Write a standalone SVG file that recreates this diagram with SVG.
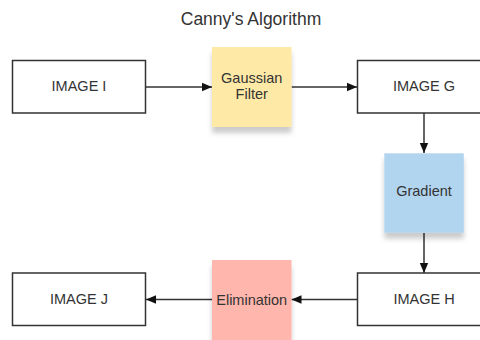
<svg xmlns="http://www.w3.org/2000/svg" width="480" height="340" viewBox="0 0 480 340">
  <style>
    text { font-family: "Liberation Sans", Arial, sans-serif; fill: #333333; text-anchor: middle; }
    .lbl { font-size: 14.5px; }
    .title { font-size: 17.5px; }
    .box { fill: #ffffff; stroke: #333333; stroke-width: 1.5; }
    .conn { fill: none; stroke: #333333; stroke-width: 1.5; }
  </style>
  <defs>
    <marker id="arrow" markerUnits="userSpaceOnUse" markerWidth="12" markerHeight="10" refX="10" refY="5" orient="auto">
      <path d="M0,0.8 L10,5 L0,9.2 Z" fill="#111111"/>
    </marker>
    <filter id="shadow" x="-20%" y="-20%" width="140%" height="150%">
      <feDropShadow dx="0" dy="6" stdDeviation="2.5" flood-color="#000000" flood-opacity="0.2"/>
    </filter>
  </defs>
  <rect width="480" height="340" fill="#ffffff"/>
  <text class="title" x="251" y="24.5">Canny's Algorithm</text>

  <g id="connectors">
    <line class="conn" x1="145.5" y1="87" x2="212" y2="87" marker-end="url(#arrow)"/>
    <line class="conn" x1="291.5" y1="87" x2="357" y2="87" marker-end="url(#arrow)"/>
    <line class="conn" x1="424" y1="113" x2="424" y2="153" marker-end="url(#arrow)"/>
    <line class="conn" x1="424" y1="233" x2="424" y2="273" marker-end="url(#arrow)"/>
    <line class="conn" x1="357" y1="299.5" x2="291.5" y2="299.5" marker-end="url(#arrow)"/>
    <line class="conn" x1="212" y1="299.5" x2="146" y2="299.5" marker-end="url(#arrow)"/>
  </g>

  <g id="image-i">
    <rect class="box" x="12.5" y="60.5" width="133" height="52.5"/>
    <text class="lbl" x="79" y="91">IMAGE I</text>
  </g>
  <g id="gaussian-filter">
    <rect x="212" y="47" width="79.5" height="80" fill="#FFE9A6" filter="url(#shadow)"/>
    <text class="lbl" x="251.7" y="82.5">Gaussian</text>
    <text class="lbl" x="251.7" y="98.5">Filter</text>
  </g>
  <g id="image-g">
    <rect class="box" x="357.5" y="60.5" width="133" height="52.5"/>
    <text class="lbl" x="424" y="91">IMAGE G</text>
  </g>
  <g id="gradient">
    <rect x="384.3" y="153.3" width="79.5" height="79.5" fill="#B2D5EF" filter="url(#shadow)"/>
    <text class="lbl" x="424" y="196">Gradient</text>
  </g>
  <g id="image-h">
    <rect class="box" x="357.5" y="273" width="133" height="52.5"/>
    <text class="lbl" x="424" y="304">IMAGE H</text>
  </g>
  <g id="elimination">
    <rect x="212" y="260" width="79.5" height="80" fill="#FFB6AC" filter="url(#shadow)"/>
    <text class="lbl" x="251.7" y="304.5">Elimination</text>
  </g>
  <g id="image-j">
    <rect class="box" x="12.5" y="273" width="133" height="52.5"/>
    <text class="lbl" x="79" y="304">IMAGE J</text>
  </g>
</svg>
